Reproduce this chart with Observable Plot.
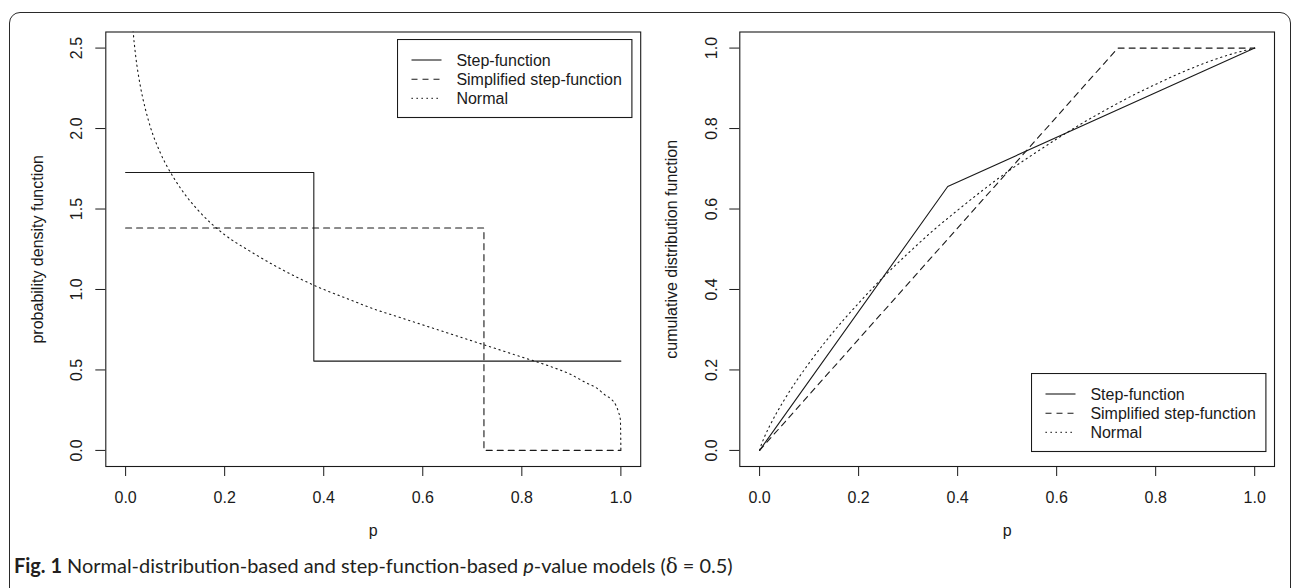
<!DOCTYPE html>
<html><head><meta charset="utf-8">
<script src="https://cdn.jsdelivr.net/npm/d3@7"></script>
<script src="https://cdn.jsdelivr.net/npm/@observablehq/plot@0.6"></script>
<style>
html,body{margin:0;padding:0;background:#fff;}
#root{position:relative;width:1293px;height:588px;overflow:hidden;background:#fff;}
#border{position:absolute;left:9px;top:12px;width:1282px;height:700px;border:1.3px solid #2a2a2a;border-radius:11px 11px 0 0;box-sizing:border-box;}
.layer{position:absolute;left:0;top:0;}
</style></head><body><div id="root"><div id="border"></div></div>
<script>
// ---------- data ----------
const xTicks = [0, 0.2, 0.4, 0.6, 0.8, 1.0];
const pdfYTicks = [0, 0.5, 1.0, 1.5, 2.0, 2.5];
const cdfYTicks = [0, 0.2, 0.4, 0.6, 0.8, 1.0];
const seriesNames = ["Step-function", "Simplified step-function", "Normal"];

// left panel: probability density function
const stepPdfP = [0, 0.38, 0.38, 1];
const stepPdfV = [1.727, 1.727, 0.555, 0.555];
const simpPdfP = [0, 0.7235, 0.7235, 1];
const simpPdfV = [1.382, 1.382, 0, 0];
const normPdfP = [0.005, 0.01, 0.015, 0.02, 0.03, 0.04, 0.05, 0.07, 0.1, 0.125, 0.15, 0.2, 0.25, 0.3, 0.35, 0.4, 0.45, 0.5, 0.55, 0.6, 0.65, 0.7, 0.75, 0.8, 0.85, 0.9, 0.93, 0.95, 0.97, 0.98, 0.99, 0.995, 0.999, 1];
const normPdfV = [3.20, 2.82, 2.61, 2.46, 2.26, 2.12, 2.01, 1.85, 1.68, 1.57, 1.48, 1.34, 1.24, 1.15, 1.07, 1.00, 0.94, 0.88, 0.83, 0.78, 0.73, 0.68, 0.63, 0.58, 0.53, 0.47, 0.42, 0.39, 0.34, 0.32, 0.28, 0.24, 0.19, 0];

// right panel: cumulative distribution function
const stepCdfP = [0, 0.38, 1];
const stepCdfV = [0, 0.656, 1];
const simpCdfP = [0, 0.7235, 1];
const simpCdfV = [0, 1, 1];
const normCdfP = [0, 0.001, 0.005, 0.01, 0.02, 0.05, 0.1, 0.15, 0.2, 0.25, 0.3, 0.35, 0.4, 0.45, 0.5, 0.55, 0.6, 0.65, 0.7, 0.75, 0.8, 0.85, 0.9, 0.95, 1];
const normCdfV = [0, 0.005, 0.019, 0.034, 0.060, 0.126, 0.217, 0.296, 0.366, 0.431, 0.490, 0.546, 0.597, 0.646, 0.692, 0.734, 0.774, 0.812, 0.847, 0.880, 0.910, 0.938, 0.963, 0.984, 1];

// ---------- styles ----------
const FONT = '"Liberation Sans", Arial, Helvetica, sans-serif';
const INK = "#1a1a1a";
const dashes = [null, "6,5", "1.3,3.7"];

const toRows = (P, V) => P.map((p, i) => ({p, v: V[i]}));

function panel({marginLeft, marginRight, yDomain, yTicks, yLabel, series, tickDx}) {
  return Plot.plot({
    width: 1293, height: 520,
    marginLeft, marginRight, marginTop: 31.5, marginBottom: 54,
    x: {domain: [-0.04, 1.04]},
    y: {domain: yDomain},
    style: {fontFamily: FONT, fontSize: "16px", color: INK, background: "transparent", overflow: "visible"},
    marks: [
      ...series.map((rows, i) => Plot.line(rows, {
        x: "p", y: "v", stroke: INK, strokeWidth: 1.1,
        strokeDasharray: dashes[i], curve: i === 2 ? "monotone-x" : "linear", clip: true
      })),
      Plot.frame({stroke: INK, strokeWidth: 1.1}),
      Plot.axisX({ticks: xTicks, tickSize: 10, tickPadding: 15, fontSize: 16, label: null,
        tickFormat: d => d.toFixed(1), stroke: INK}),
      Plot.axisY({ticks: yTicks, tickSize: 10, tickFormat: () => "", label: null, stroke: INK}),
      Plot.text(yTicks, {y: d => d, text: d => d.toFixed(1), frameAnchor: "left", dx: tickDx,
        rotate: -90, textAnchor: "middle", lineAnchor: "middle", fontSize: 16, fill: INK}),
      Plot.text(["p"], {frameAnchor: "bottom", dy: 64.5, textAnchor: "middle", lineAnchor: "middle", fontSize: 16, fill: INK}),
      Plot.text([yLabel], {frameAnchor: "left", dx: -67.5, rotate: -90, textAnchor: "middle", lineAnchor: "middle", fontSize: 16, fill: INK})
    ]
  });
}

const root = document.getElementById("root");

const left = panel({
  marginLeft: 105.3, marginRight: 1293 - 640.2,
  yDomain: [-0.1, 2.6], yTicks: pdfYTicks, yLabel: "probability density function", tickDx: -29,
  series: [toRows(stepPdfP, stepPdfV), toRows(simpPdfP, simpPdfV), toRows(normPdfP, normPdfV)]
});
const right = panel({
  marginLeft: 739.3, marginRight: 1293 - 1274,
  yDomain: [-0.04, 1.04], yTicks: cdfYTicks, yLabel: "cumulative distribution function", tickDx: -28,
  series: [toRows(stepCdfP, stepCdfV), toRows(simpCdfP, simpCdfV), toRows(normCdfP, normCdfV)]
});
left.classList.add("layer");
right.classList.add("layer");
root.appendChild(left);
root.appendChild(right);

// ---------- legends ----------
function legend(x, y) {
  const w = 234.4, h = 78;
  const svg = d3.select(root).append("svg").attr("class", "layer")
    .style("left", x + "px").style("top", y + "px")
    .attr("width", w + 2).attr("height", h + 2);
  svg.append("rect").attr("x", 0.5).attr("y", 0.5).attr("width", w).attr("height", h)
    .attr("fill", "#fff").attr("stroke", INK).attr("stroke-width", 1.1);
  seriesNames.forEach((name, i) => {
    const cy = 21 + i * 19.2;
    svg.append("line").attr("x1", 14.5).attr("x2", 44.5).attr("y1", cy).attr("y2", cy)
      .attr("stroke", INK).attr("stroke-width", 1.1)
      .attr("stroke-dasharray", dashes[i]);
    svg.append("text").attr("x", 59.4).attr("y", cy + 5.7)
      .attr("font-family", FONT).attr("font-size", 16).attr("fill", INK).text(name);
  });
}
legend(397.3, 39.3);
legend(1031.3, 373.3);

// ---------- caption ----------
const cap = d3.select(root).append("svg").attr("class", "layer").attr("width", 1293).attr("height", 588);
const t = cap.append("text").attr("x", 14).attr("y", 573)
  .attr("font-family", "Lato, 'Open Sans', sans-serif").attr("font-size", 18).attr("fill", "#231f20");
t.append("tspan").attr("font-weight", "bold").text("Fig. 1");
t.append("tspan").text(" Normal-distribution-based and step-function-based ");
t.append("tspan").attr("font-style", "italic").text("p");
t.append("tspan").text("-value models (");
t.append("tspan").attr("font-family", "'DejaVu Serif', 'Liberation Serif', serif").text("δ");
t.append("tspan").text(" = 0.5)");
const len = t.node().getComputedTextLength();
t.attr("font-size", 18 * 719 / len);
</script>
</body></html>
